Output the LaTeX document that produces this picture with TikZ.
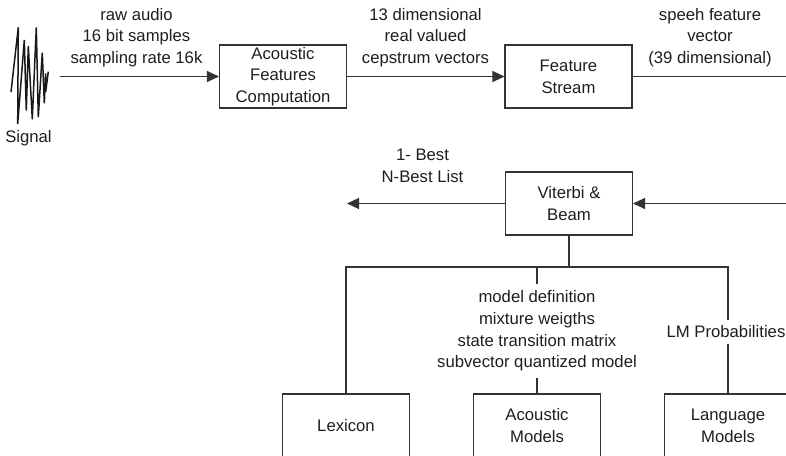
\documentclass[tikz,border=0pt]{standalone}
\usepackage{fontspec}
\setmainfont{Liberation Sans}
\usetikzlibrary{arrows.meta}
\definecolor{ink}{HTML}{333333}
\definecolor{txt}{HTML}{1E1E1E}
\begin{document}
\begin{tikzpicture}[x=1pt,y=-1pt,
  every node/.style={font=\fontsize{16.7}{21.7}\selectfont, text=txt},
  blk/.style={draw=ink, line width=1.1pt, minimum width=127pt, minimum height=63pt,
              align=center, inner sep=0pt},
  lbl/.style={align=center, inner sep=0pt},
  wire/.style={draw=ink, line width=1.1pt},
  flow/.style={wire, -{Triangle[length=12pt,width=11pt]}}]
\clip (0,0) rectangle (786,455);

% input waveform
\draw[ink!50!black, line width=1.5pt, line join=miter]
  (11,92) -- (18.3,27.3) -- (17.7,124) -- (24.3,40) -- (26.3,110.7) -- (28.3,46)
  -- (32.3,119.3) -- (36.3,27.3) -- (38.3,117.3) -- (42.3,52.7) -- (44.3,103.3)
  -- (45.7,73.3) -- (45.7,91.7) -- (48.3,71.7);
\node (siglbl) at (28.5,138) {Signal};

% front end
\node[blk] (acf) at (283,76.5) {Acoustic\\Features\\Computation};
\node[blk] (fs)  at (568.5,76.5) {Feature\\Stream};
\node[blk] (vit) at (569,203.5) {Viterbi \&\\Beam};

% knowledge sources
\node[blk] (lex) at (346,425.5) {Lexicon};
\node[blk] (am)  at (537,425.5) {Acoustic\\Models};
\node[blk] (lm)  at (728,425.5) {Language\\Models};

% edge labels
\node[lbl] (rawlbl)  at (136.5,37.5) {raw audio\\16 bit samples\\sampling rate 16k};
\node[lbl] (ceplbl)  at (425.5,37.5) {13 dimensional\\real valued\\cepstrum vectors};
\node[lbl] (veclbl)  at (710,37.5) {speeh feature\\vector\\(39 dimensional)};
\node[lbl] (bestlbl) at (422.5,166) {1- Best\\N-Best List};
\node[lbl, inner ysep=6pt] (amlbl) at (537,331)
  {model definition\\mixture weigths\\state transition matrix\\subvector quantized model};
\node[lbl, inner ysep=6pt] (lmlbl) at (726,332) {LM Probabilities};

% free ends
\coordinate (sigout) at (60,76.5);
\coordinate (fsout)  at (786,76.5);
\coordinate (vitin)  at (786,203.5);
\coordinate (bestout) at (347,203.5);
\coordinate (busL) at (346,267);
\coordinate (busR) at (728,267);

% connectors
\draw[flow] (sigout) -- (acf.west);
\draw[flow] (acf.east) -- (fs.west);
\draw[wire] (fs.east) -- (fsout);
\draw[flow] (vitin) -- (vit.east);
\draw[flow] (vit.west) -- (bestout);
\draw[wire] (vit.south) -- (vit.south |- busL);
\draw[wire] (lex.north) -- (busL) -- (busR) -- (busR |- lmlbl.north);
\draw[wire] (lm.north |- lmlbl.south) -- (lm.north);
\draw[wire] (amlbl.north |- busL) -- (amlbl.north);
\draw[wire] (amlbl.south) -- (am.north);
\end{tikzpicture}
\end{document}
